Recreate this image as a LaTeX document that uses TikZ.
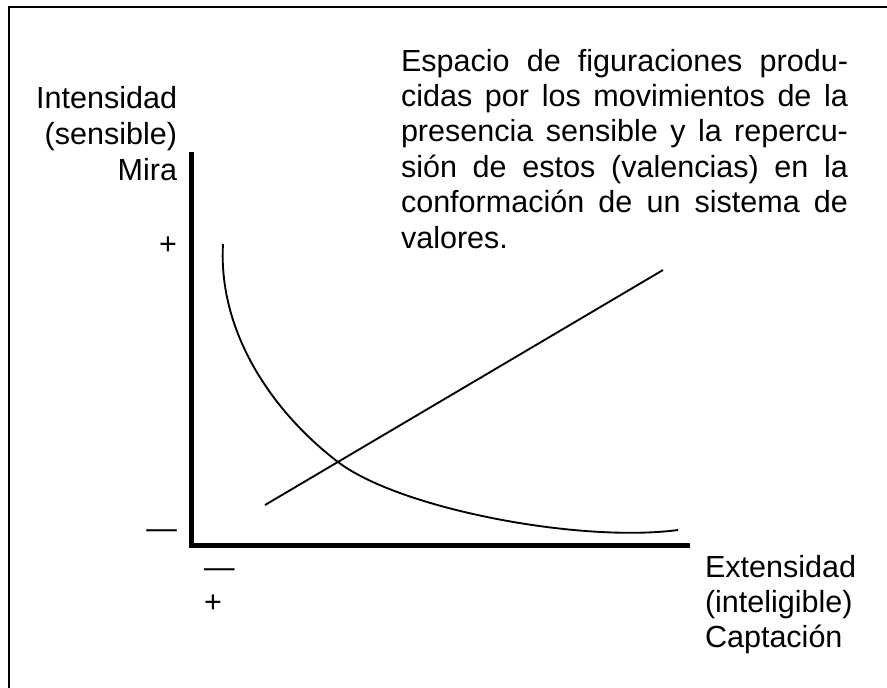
\documentclass[tikz,border=0pt]{standalone}
\usepackage{fontspec}
\setmainfont{Liberation Sans}
\newcommand\jline[1]{\makebox[335.25pt][s]{#1}}
\begin{document}
\begin{tikzpicture}[x=0.75pt,y=-0.75pt,
  lbl/.style={inner sep=0pt,outer sep=0pt,font=\fontsize{22.9}{26.6}\selectfont},
  frameline/.style={line width=2pt},
  axisline/.style={line width=3.75pt,line join=miter},
  plotline/.style={line width=1.4pt}]
\useasboundingbox (0,0) rectangle (887,687);
% frame
\coordinate (fb) at (9,700);
\coordinate (fc) at (9,7);
\coordinate (fr) at (900,7);
\draw[frameline] (fb) -- (fc) -- (fr);
% axes
\coordinate (ytop) at (191.5,152);
\coordinate (orig) at (191.5,545.5);
\coordinate (xend) at (690,545.5);
\draw[axisline] (ytop) -- (orig) -- (xend);
% curve
\coordinate (c0) at (223,244);
\coordinate (cx) at (338,462);
\coordinate (c1) at (678,530);
\draw[plotline] (c0) .. controls (218,330) and (270,410) .. (cx)
  .. controls (400,509) and (580,543) .. (c1);
% straight line
\coordinate (l0) at (265,505);
\coordinate (l1) at (663,270);
\draw[plotline] (l0) -- (l1);
% left labels
\node[lbl,anchor=base east] (int) at (177,108) {Intensidad};
\node[lbl,anchor=base east] (sen) at (177,144) {(sensible)};
\node[lbl,anchor=base east] (mira) at (177,180) {Mira};
\node[lbl,anchor=base east] (yplus) at (177,254) {+};
\node[lbl,anchor=base east] (yminus) at (177,538.5) {—};
% bottom labels
\node[lbl,anchor=base west] (xminus) at (204,577.5) {—};
\node[lbl,anchor=base west] (xplus) at (204,612.5) {+};
% right labels
\node[lbl,anchor=base west] (ext) at (705,577) {Extensidad};
\node[lbl,anchor=base west] (intel) at (705,612) {(inteligible)};
\node[lbl,anchor=base west] (capt) at (705,647) {Captación};
% paragraph
\node[lbl,anchor=base west] (p1) at (401,71) {\jline{Espacio de figuraciones produ-}};
\node[lbl,anchor=base west] (p2) at (401,106.4) {\jline{cidas por los movimientos de la}};
\node[lbl,anchor=base west] (p3) at (401,141.8) {\jline{presencia sensible y la repercu-}};
\node[lbl,anchor=base west] (p4) at (401,177.2) {\jline{sión de estos (valencias) en la}};
\node[lbl,anchor=base west] (p5) at (401,212.6) {\jline{conformación de un sistema de}};
\node[lbl,anchor=base west] (p6) at (401,248) {valores.};
\end{tikzpicture}
\end{document}
